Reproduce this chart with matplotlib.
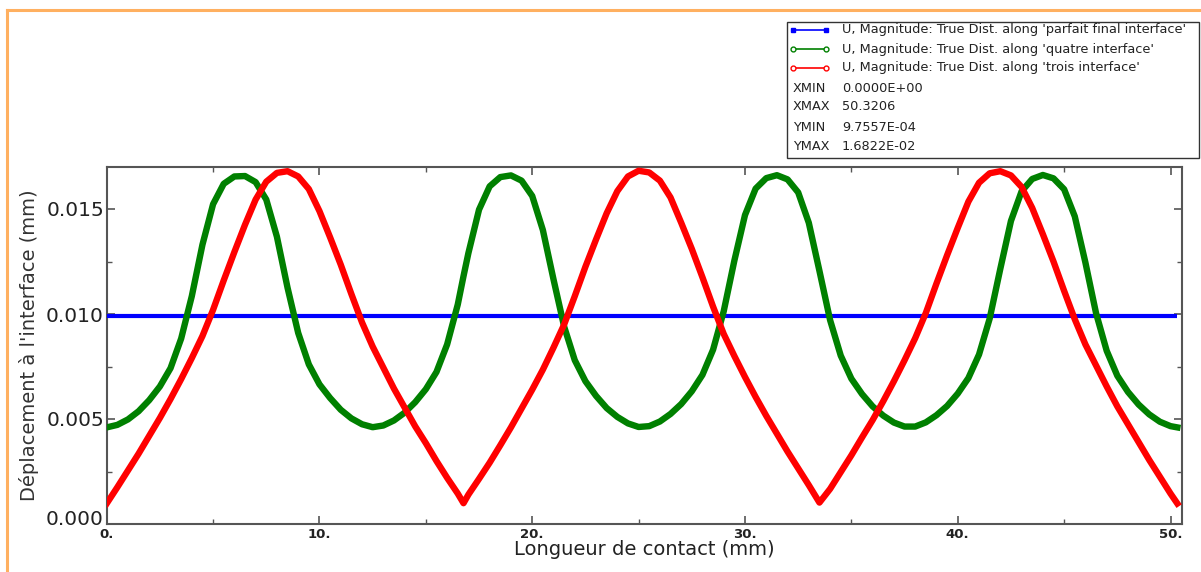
import matplotlib
matplotlib.use('Agg')
import matplotlib.pyplot as plt
from matplotlib.lines import Line2D
from matplotlib.patches import Rectangle
from matplotlib.ticker import MultipleLocator, FuncFormatter
from matplotlib.transforms import ScaledTranslation

# Displacement magnitude along the contact length for three interface paths
x_pos = [0.0, 0.5, 1.0, 1.5, 2.0, 2.5, 3.0, 3.5, 4.0, 4.5,
         5.0, 5.5, 6.0, 6.5, 7.0, 7.5, 8.0, 8.5, 9.0, 9.5,
         10.0, 10.5, 11.0, 11.5, 12.0, 12.5, 13.0, 13.5, 14.0, 14.5,
         15.0, 15.5, 16.0, 16.5, 16.77, 17.0, 17.5, 18.0, 18.5, 19.0, 19.5,
         20.0, 20.5, 21.0, 21.5, 22.0, 22.5, 23.0, 23.5, 24.0, 24.5,
         25.0, 25.5, 26.0, 26.5, 27.0, 27.5, 28.0, 28.5, 29.0, 29.5,
         30.0, 30.5, 31.0, 31.5, 32.0, 32.5, 33.0, 33.5, 34.0, 34.5,
         35.0, 35.5, 36.0, 36.5, 37.0, 37.5, 38.0, 38.5, 39.0, 39.5,
         40.0, 40.5, 41.0, 41.5, 42.0, 42.5, 43.0, 43.5, 44.0, 44.5,
         45.0, 45.5, 46.0, 46.5, 47.0, 47.5, 48.0, 48.5, 49.0, 49.5,
         50.0, 50.3206]

# 'quatre interface' (x 1e-3 mm)
u_quatre = [4.60, 4.72, 4.98, 5.37, 5.90, 6.55, 7.42, 8.83, 10.85, 13.30,
            15.23, 16.20, 16.55, 16.57, 16.28, 15.45, 13.68, 11.25, 9.10, 7.60,
            6.65, 6.00, 5.44, 5.03, 4.75, 4.61, 4.69, 4.93, 5.30, 5.80,
            6.42, 7.24, 8.55, 10.45, 11.80, 12.90, 14.97, 16.08, 16.52, 16.60, 16.35,
            15.62, 14.00, 11.65, 9.40, 7.80, 6.80, 6.10, 5.52, 5.10, 4.79,
            4.62, 4.66, 4.88, 5.24, 5.71, 6.32, 7.10, 8.30, 10.13, 12.54,
            14.71, 15.97, 16.47, 16.61, 16.41, 15.79, 14.34, 12.05, 9.71, 8.02,
            6.92, 6.19, 5.60, 5.16, 4.83, 4.64, 4.64, 4.84, 5.18, 5.62,
            6.21, 6.95, 8.07, 9.78, 12.15, 14.43, 15.84, 16.43, 16.62, 16.46,
            15.94, 14.65, 12.45, 10.04, 8.25, 7.06, 6.29, 5.69, 5.22, 4.87,
            4.66, 4.60]

# 'trois interface' (x 1e-3 mm)
u_trois = [0.97557, 1.75, 2.55, 3.35, 4.20, 5.05, 5.95, 6.90, 7.90, 8.95,
           10.20, 11.60, 12.95, 14.25, 15.45, 16.30, 16.72, 16.80, 16.55, 15.95,
           14.90, 13.65, 12.35, 10.95, 9.60, 8.45, 7.45, 6.45, 5.55, 4.65,
           3.85, 3.00, 2.20, 1.45, 0.99, 1.40, 2.15, 2.92, 3.75, 4.60, 5.50,
           6.40, 7.35, 8.40, 9.50, 10.85, 12.25, 13.55, 14.80, 15.85, 16.55,
           16.822, 16.74, 16.35, 15.55, 14.35, 13.10, 11.75, 10.35, 9.05, 8.00,
           7.00, 6.05, 5.15, 4.30, 3.45, 2.65, 1.85, 1.02, 1.67, 2.47,
           3.27, 4.12, 4.95, 5.85, 6.80, 7.80, 8.85, 10.05, 11.45, 12.80,
           14.10, 15.35, 16.25, 16.70, 16.80, 16.60, 16.05, 15.05, 13.80, 12.50,
           11.10, 9.75, 8.55, 7.55, 6.55, 5.60, 4.75, 3.90, 3.05, 2.25,
           1.45, 0.97557]

# 'parfait final interface' is flat along the whole path
x_parfait = [0.0, 50.3206]
u_parfait = [9.92, 9.92]

legend_labels = ["U, Magnitude: True Dist. along 'parfait final interface'",
                 "U, Magnitude: True Dist. along 'quatre interface'",
                 "U, Magnitude: True Dist. along 'trois interface'"]

# convert to mm
u_quatre = [v * 1e-3 for v in u_quatre]
u_trois = [v * 1e-3 for v in u_trois]
u_parfait = [v * 1e-3 for v in u_parfait]

W, H = 1201, 572
fig = plt.figure(figsize=(W / 100, H / 100), dpi=100)
ax = fig.add_axes([106.7 / W, 1 - 524 / H, (1182 - 106.7) / W, (524 - 167) / H])

green = '#008000'
red = '#ff0000'
blue = '#0000ff'

ax.plot(x_parfait, u_parfait, color=blue, lw=3.0, solid_capstyle='butt', zorder=3)
ax.plot(x_pos, u_quatre, color=green, lw=4.6, solid_joinstyle='round', zorder=4)
ax.plot(x_pos, u_trois, color=red, lw=4.6, solid_joinstyle='round', zorder=5)

ax.set_xlim(0, 50.54)
ax.set_ylim(0, 0.0170)

ax.xaxis.set_major_locator(MultipleLocator(10))
ax.xaxis.set_minor_locator(MultipleLocator(5))
ax.yaxis.set_major_locator(MultipleLocator(0.005))
ax.yaxis.set_minor_locator(MultipleLocator(0.0025))
ax.xaxis.set_major_formatter(FuncFormatter(lambda v, p: f"{v:.0f}."))
ax.yaxis.set_major_formatter(FuncFormatter(lambda v, p: f"{v:.3f}"))

for s in ax.spines.values():
    s.set_color('#555555')
    s.set_linewidth(1.5)

ax.tick_params(which='both', direction='in', top=True, right=True, color='#555555')
ax.tick_params(which='major', length=6, width=1.2)
ax.tick_params(which='minor', length=3.5, width=1.0)
ax.tick_params(axis='y', labelsize=14.5, labelcolor='#222222', pad=2)
ax.tick_params(axis='x', labelsize=9.5, labelcolor='#222222', pad=3)
for lbl in ax.get_xticklabels():
    lbl.set_fontweight('bold')

ax.set_xlabel('Longueur de contact (mm)', fontsize=14, color='#222222', labelpad=-1)
ax.set_ylabel("Déplacement à l'interface (mm)", fontsize=14, color='#333333', labelpad=5)

# nudge the zero label on y up so it clears the "0." below it
fig.canvas.draw()
for tick in ax.yaxis.get_major_ticks():
    if abs(tick.get_loc()) < 1e-9:
        tick.label1.set_transform(tick.label1.get_transform() +
                                  ScaledTranslation(0, 5 / 72, fig.dpi_scale_trans))

# orange frame edge at top and left
fig.add_artist(Line2D([7 / W, 1.0], [1 - 10 / H, 1 - 10 / H], color='#ffb060', lw=2.2))
fig.add_artist(Line2D([7 / W, 7 / W], [0.0, 1 - 10 / H], color='#ffb060', lw=2.2))

# legend block with data extents
box = Rectangle((787 / W, 1 - 158 / H), (1199 - 787) / W, (158 - 22) / H,
                transform=fig.transFigure, facecolor='white', edgecolor='#333333', lw=1.0)
fig.add_artist(box)

row_y = [30, 49, 68, 88, 107, 127, 146]
series_style = [(blue, 's', blue), (green, 'o', 'white'), (red, 'o', 'white')]
for i, (col, mk, fc) in enumerate(series_style):
    y = 1 - row_y[i] / H
    fig.add_artist(Line2D([793 / W, 826 / W], [y, y], color=col, lw=1.2,
                          marker=mk, markersize=3.5, markerfacecolor=fc,
                          markeredgecolor=col, markeredgewidth=1.0))
    fig.text(842 / W, y, legend_labels[i], fontsize=9.3, va='center', ha='left', color='#222222')

extents = [('XMIN', f"{min(x_pos):.4E}"),
           ('XMAX', f"{max(x_pos):.4f}"),
           ('YMIN', f"{min(u_trois):.4E}"),
           ('YMAX', f"{max(u_trois):.4E}")]
for j, (name, val) in enumerate(extents):
    y = 1 - row_y[3 + j] / H
    fig.text(793 / W, y, name, fontsize=9.3, va='center', ha='left', color='#222222')
    fig.text(842 / W, y, val, fontsize=9.3, va='center', ha='left', color='#222222')

fig.savefig('out.png', dpi=100, facecolor='white')
